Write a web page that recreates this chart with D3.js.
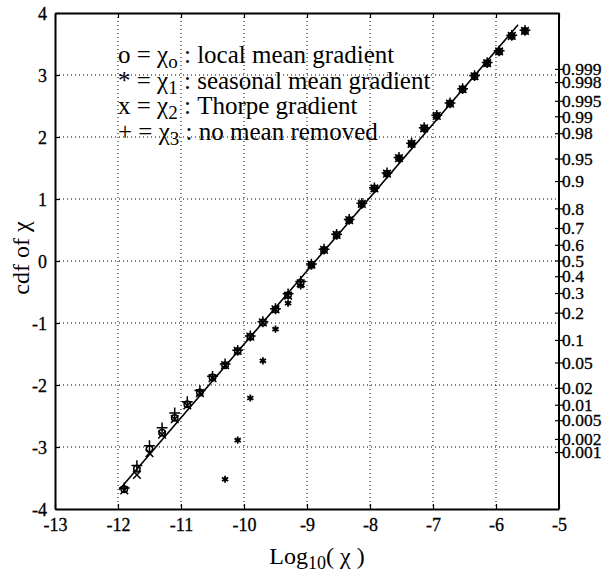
<!DOCTYPE html>
<html>
<head>
<meta charset="utf-8">
<script src="https://cdn.jsdelivr.net/npm/d3@7"></script>
<style>
  body { margin: 0; background: #fff; }
  svg text { fill: #000; }
  .grid line { stroke: #000; stroke-width: 1; stroke-dasharray: 1,3; }
</style>
</head>
<body>
<div id="chart"></div>
<script>
// bin centres, log10(chi)
const binX = [-11.9, -11.7, -11.5, -11.3, -11.1, -10.9, -10.7, -10.5, -10.3, -10.1,
              -9.9, -9.7, -9.5, -9.3, -9.1, -8.93, -8.73, -8.53, -8.33, -8.13,
              -7.93, -7.73, -7.54, -7.34, -7.14, -6.94, -6.73, -6.53, -6.34, -6.14,
              -5.95, -5.75, -5.54];
// cdf (in standard-normal units) per estimate
const cdfLocal = [-3.68, -3.35, -3.03, -2.77, -2.53, -2.31, -2.12, -1.88, -1.68, -1.45,
                  -1.22, -0.99, -0.78, -0.55, -0.35, -0.06, 0.18, 0.42, 0.66, 0.92,
                  1.17, 1.41, 1.66, 1.89, 2.14, 2.34, 2.54, 2.77, 2.98, 3.19,
                  3.38, 3.63, 3.71];
const cdfSeasonal = [null, null, null, null, null, null, null, null, -3.52, -2.89,
                     -2.21, -1.61, -1.10, -0.68, -0.40, -0.08, 0.17, 0.41, 0.66, 0.91,
                     1.16, 1.41, 1.65, 1.89, 2.13, 2.34, 2.54, 2.77, 2.98, 3.19,
                     3.38, 3.63, 3.71];
const cdfThorpe = [-3.70, -3.45, -3.10, -2.80, -2.55, -2.33, -2.13, -1.89, -1.68, -1.45,
                   -1.22, -0.99, -0.78, -0.56, -0.36, -0.06, 0.18, 0.42, 0.66, 0.92,
                   1.17, 1.41, 1.66, 1.89, 2.14, 2.34, 2.54, 2.77, 2.98, 3.19,
                   3.38, 3.63, 3.71];
const cdfRaw = [-3.66, -3.30, -2.98, -2.69, -2.45, -2.27, -2.09, -1.86, -1.66, -1.44,
                -1.21, -0.98, -0.77, -0.53, -0.33, -0.05, 0.19, 0.43, 0.67, 0.93,
                1.18, 1.42, 1.67, 1.90, 2.15, 2.35, 2.55, 2.78, 2.99, 3.20,
                3.39, 3.64, 3.72];
// fitted straight line
const fitX = [-11.98, -5.65];
const fitY = [-3.69, 3.81];

const xTicks = [-13, -12, -11, -10, -9, -8, -7, -6, -5];
const yTicks = [-4, -3, -2, -1, 0, 1, 2, 3, 4];
const probTicks = [0.999, 0.998, 0.995, 0.99, 0.98, 0.95, 0.9, 0.8, 0.7, 0.6, 0.5,
                   0.4, 0.3, 0.2, 0.1, 0.05, 0.02, 0.01, 0.005, 0.002, 0.001];
const legendLines = [
    {sym: "o", sub: "o", desc: " : local mean gradient"},
    {sym: "*", sub: "1", desc: " : seasonal mean gradient"},
    {sym: "x", sub: "2", desc: " : Thorpe gradient"},
    {sym: "+", sub: "3", desc: " : no mean removed"}
];

// inverse standard normal cdf (Acklam)
function probit(p) {
    const a = [-39.6968302866538, 220.946098424521, -275.928510446969, 138.357751867269, -30.6647980661472, 2.50662827745924];
    const b = [-54.4760987982241, 161.585836858041, -155.698979859887, 66.8013118877197, -13.2806815528857];
    const c = [-0.00778489400243029, -0.322396458041136, -2.40075827716184, -2.54973253934373, 4.37466414146497, 2.93816398269878];
    const d = [0.00778469570904146, 0.32246712907004, 2.445134137143, 3.75440866190742];
    const pl = 0.02425;
    let q, r;
    if (p < pl) {
        q = Math.sqrt(-2 * Math.log(p));
        return (((((c[0]*q+c[1])*q+c[2])*q+c[3])*q+c[4])*q+c[5]) / ((((d[0]*q+d[1])*q+d[2])*q+d[3])*q+1);
    } else if (p <= 1 - pl) {
        q = p - 0.5; r = q*q;
        return (((((a[0]*r+a[1])*r+a[2])*r+a[3])*r+a[4])*r+a[5])*q / (((((b[0]*r+b[1])*r+b[2])*r+b[3])*r+b[4])*r+1);
    }
    q = Math.sqrt(-2 * Math.log(1 - p));
    return -(((((c[0]*q+c[1])*q+c[2])*q+c[3])*q+c[4])*q+c[5]) / ((((d[0]*q+d[1])*q+d[2])*q+d[3])*q+1);
}

const W = 609, H = 576;
const plot = {left: 55, right: 559, top: 13, bottom: 509};
const serif = '"Liberation Serif", "Times New Roman", serif';

const svg = d3.select('#chart').append('svg')
    .attr('width', W).attr('height', H)
    .style('font-family', serif);
svg.append('rect').attr('width', W).attr('height', H).attr('fill', '#fff');

const x = d3.scaleLinear().domain([-13, -5]).range([plot.left, plot.right]);
const y = d3.scaleLinear().domain([-4, 4]).range([plot.bottom, plot.top]);
const fmt = d => String(d); // plain hyphen minus, as in the original

// grid
const grid = svg.append('g').attr('class', 'grid');
grid.selectAll('.gx').data(xTicks.slice(1, -1)).join('line')
    .attr('x1', d => x(d)).attr('x2', d => x(d))
    .attr('y1', plot.top).attr('y2', plot.bottom);
grid.selectAll('.gy').data(yTicks.slice(1, -1)).join('line')
    .attr('class', 'gy')
    .attr('x1', plot.left).attr('x2', plot.right)
    .attr('y1', d => y(d)).attr('y2', d => y(d));

// axes
const tickLen = 5;
const bottomAxis = d3.axisBottom(x).tickValues(xTicks).tickFormat(fmt).tickSizeInner(-tickLen).tickSizeOuter(0).tickPadding(9);
const topAxis = d3.axisTop(x).tickValues(xTicks).tickSizeInner(-tickLen).tickSizeOuter(0).tickFormat('');
const leftAxis = d3.axisLeft(y).tickValues(yTicks).tickFormat(fmt).tickSizeInner(-tickLen).tickSizeOuter(0).tickPadding(8);

const gB = svg.append('g').attr('transform', `translate(0,${plot.bottom})`).call(bottomAxis);
const gT = svg.append('g').attr('transform', `translate(0,${plot.top})`).call(topAxis);
const gL = svg.append('g').attr('transform', `translate(${plot.left},0)`).call(leftAxis);
[gB, gT, gL].forEach(g => {
    g.attr('font-family', null).attr('font-size', null);
    g.select('.domain').attr('stroke', '#000').attr('stroke-width', 2);
    g.selectAll('.tick line').attr('stroke', '#000').attr('stroke-width', 1.2);
    g.selectAll('.tick text').style('font-size', '18px').style('font-family', serif)
        .attr('fill', '#000').attr('stroke', '#000').attr('stroke-width', 0.3);
});
gL.selectAll('.tick text').attr('dy', '0.35em');

// right probability axis
const yProb = p => y(probit(p));
const gR = svg.append('g').attr('transform', `translate(${plot.right},0)`);
gR.append('line').attr('y1', plot.top).attr('y2', plot.bottom)
    .attr('stroke', '#000').attr('stroke-width', 2);
const rt = gR.selectAll('.rt').data(probTicks).join('g')
    .attr('transform', d => `translate(0,${yProb(d)})`);
rt.append('line').attr('x1', -4).attr('x2', 4).attr('stroke', '#000').attr('stroke-width', 1.2);
rt.append('text').attr('x', 3).attr('dy', '0.33em')
    .style('font-size', '17.5px').style('font-family', serif)
    .attr('stroke', '#000').attr('stroke-width', 0.3)
    .text(d => d);

// fitted line
svg.append('line')
    .attr('x1', x(fitX[0])).attr('y1', y(fitY[0]))
    .attr('x2', x(fitX[1])).attr('y2', y(fitY[1]))
    .attr('stroke', '#000').attr('stroke-width', 1.6);

// markers
function pts(vals) {
    return binX.map((b, i) => ({x: b, y: vals[i]})).filter(d => d.y !== null);
}
const mk = svg.append('g').attr('fill', 'none').attr('stroke', '#000').attr('stroke-width', 1.5);
mk.selectAll('.o').data(pts(cdfLocal)).join('circle')
    .attr('cx', d => x(d.x)).attr('cy', d => y(d.y)).attr('r', 3.2);
mk.selectAll('.s').data(pts(cdfSeasonal)).join('path')
    .attr('d', d3.symbol().type(d3.symbolAsterisk).size(36)).attr('stroke-width', 1.8)
    .attr('transform', d => `translate(${x(d.x)},${y(d.y)})`);
mk.selectAll('.x').data(pts(cdfThorpe)).join('path')
    .attr('d', d3.symbol().type(d3.symbolX).size(40))
    .attr('transform', d => `translate(${x(d.x)},${y(d.y)})`);
mk.selectAll('.p').data(pts(cdfRaw)).join('path')
    .attr('d', d3.symbol().type(d3.symbolPlus).size(40))
    .attr('transform', d => `translate(${x(d.x)},${y(d.y)})`);

// legend text
const leg = svg.append('g');
legendLines.forEach((l, i) => {
    const t = leg.append('text').attr('x', 118).attr('y', 63 + i * 25.5)
        .style('font-size', '25px').style('font-family', serif);
    t.append('tspan').text(l.sym + ' = \u03C7');
    t.append('tspan').style('font-size', '19px').attr('dy', 5).text(l.sub);
    t.append('tspan').attr('dy', -5).text(l.desc);
});

// axis titles
const xt = svg.append('text').attr('x', 317).attr('y', 564)
    .attr('text-anchor', 'middle').style('font-size', '24px').style('font-family', serif);
xt.append('tspan').text('Log');
xt.append('tspan').style('font-size', '18px').attr('dy', 5).text('10');
xt.append('tspan').attr('dy', -5).text('( \u03C7 )');

svg.append('text')
    .attr('transform', 'translate(29,258) rotate(-90)')
    .attr('text-anchor', 'middle').style('font-size', '24px').style('font-family', serif)
    .text('cdf of \u03C7');
</script>
</body>
</html>
